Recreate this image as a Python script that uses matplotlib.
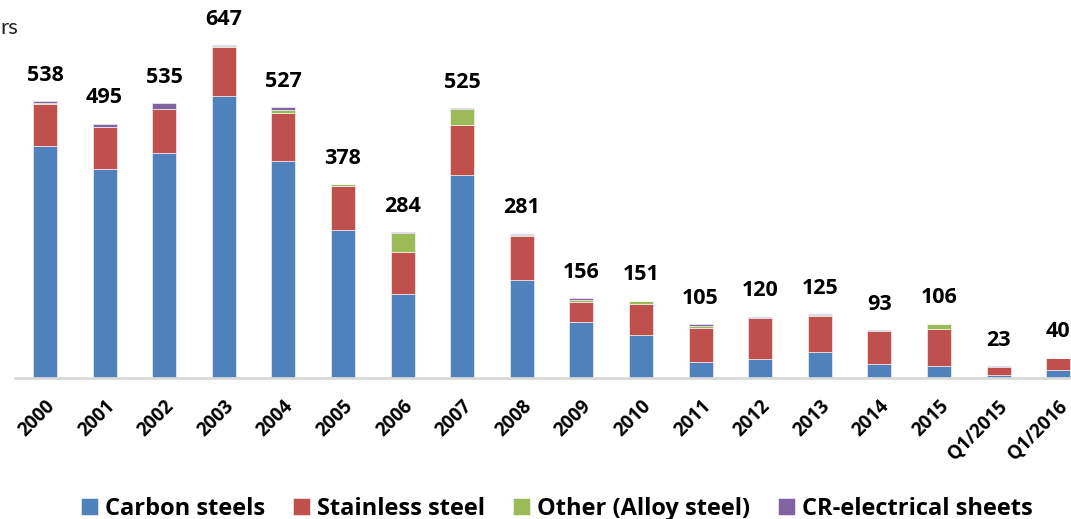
import matplotlib
matplotlib.use("Agg")
import matplotlib.pyplot as plt
from matplotlib import font_manager as fm
import numpy as np

categories = ["2000", "2001", "2002", "2003", "2004", "2005", "2006", "2007", "2008",
              "2009", "2010", "2011", "2012", "2013", "2014", "2015", "Q1/2015", "Q1/2016"]
carbon = [451, 406, 437, 549, 422, 289, 164, 395, 191, 110, 84, 32, 38, 52, 27, 24, 6, 17]
stainless = [83, 82, 86, 95, 94, 84, 82, 97, 85, 38, 61, 66, 79, 70, 65, 71, 16, 22]
other = [1, 0, 0, 1, 6, 4, 37, 32, 3, 5, 5, 4, 0, 1, 0, 10, 0, 0]
cr_elec = [3, 7, 12, 2, 5, 1, 1, 1, 2, 3, 1, 3, 3, 2, 1, 1, 1, 1]
totals = [538, 495, 535, 647, 527, 378, 284, 525, 281, 156, 151, 105, 120, 125, 93, 106, 23, 40]

series_names = ["Carbon steels", "Stainless steel", "Other (Alloy steel)", "CR-electrical sheets"]
colors = ["#4F81BD", "#C0504D", "#9BBB59", "#8064A2"]


def _w(v):
    if isinstance(v, (int, float)):
        return int(v)
    return {"bold": 700, "semibold": 600, "demibold": 600, "heavy": 800, "black": 900,
            "extra bold": 800, "normal": 400, "regular": 400}.get(str(v).lower(), 400)


def find_bold(cands):
    for cand in cands:
        ents = [f for f in fm.fontManager.ttflist
                if f.name == cand and f.style == "normal" and _w(f.weight) >= 650]
        if ents:
            ents.sort(key=lambda f: abs(_w(f.weight) - 700))
            return ents[0].fname
    return None


bold_path = find_bold(["Open Sans", "Noto Sans", "Lato", "Liberation Sans"])
plt.rcParams['font.family'] = ['Lato', 'DejaVu Sans']


def bprop(size):
    if bold_path:
        return fm.FontProperties(fname=bold_path, size=size)
    return fm.FontProperties(family="DejaVu Sans", weight="bold", size=size)


fig = plt.figure(figsize=(10.71, 5.19), dpi=100)
W, H = 1071, 519
left_px, right_px = 15.2, 1088
base_px, top_px = 378.3, 18
ax = fig.add_axes([left_px / W, (H - base_px) / H, (right_px - left_px) / W, (base_px - top_px) / H])

x = np.arange(len(categories))
bottom = np.zeros(len(categories))
for vals, name, c in zip([carbon, stainless, other, cr_elec], series_names, colors):
    ax.bar(x, vals, width=0.4, bottom=bottom, color=c, label=name,
           edgecolor="#FFFFFF", linewidth=0.4)
    bottom += np.array(vals)

ax.set_xlim(-0.5, len(categories) - 0.5)
ymax = (base_px - top_px) / 0.5145
ax.set_ylim(0, ymax)

for xi, top, t in zip(x, bottom, totals):
    ax.annotate(str(t), (xi, top), xytext=(0, 11), textcoords="offset points",
                ha="center", va="bottom", fontproperties=bprop(15.5), color="black")

for s in ["top", "right", "left"]:
    ax.spines[s].set_visible(False)
ax.spines["bottom"].set_color("#D9D9D9")
ax.spines["bottom"].set_linewidth(2)
ax.set_yticks([])
ax.set_xticks(x)
ax.set_xticklabels(categories, rotation=45, ha="right", rotation_mode="anchor",
                   fontproperties=bprop(13.5))
ax.tick_params(axis="x", length=0, pad=13)

fig.text(0.0, (H - 28) / H, "rs", fontsize=16, ha="left", va="center", color="#222222")

leg = fig.legend(loc="center", bbox_to_anchor=(557 / W, (H - 509) / H), ncol=4,
                 frameon=False, prop=bprop(17),
                 handlelength=0.7, handleheight=0.7, handletextpad=0.3, columnspacing=1.2)

fig.savefig("out.png", dpi=100)
